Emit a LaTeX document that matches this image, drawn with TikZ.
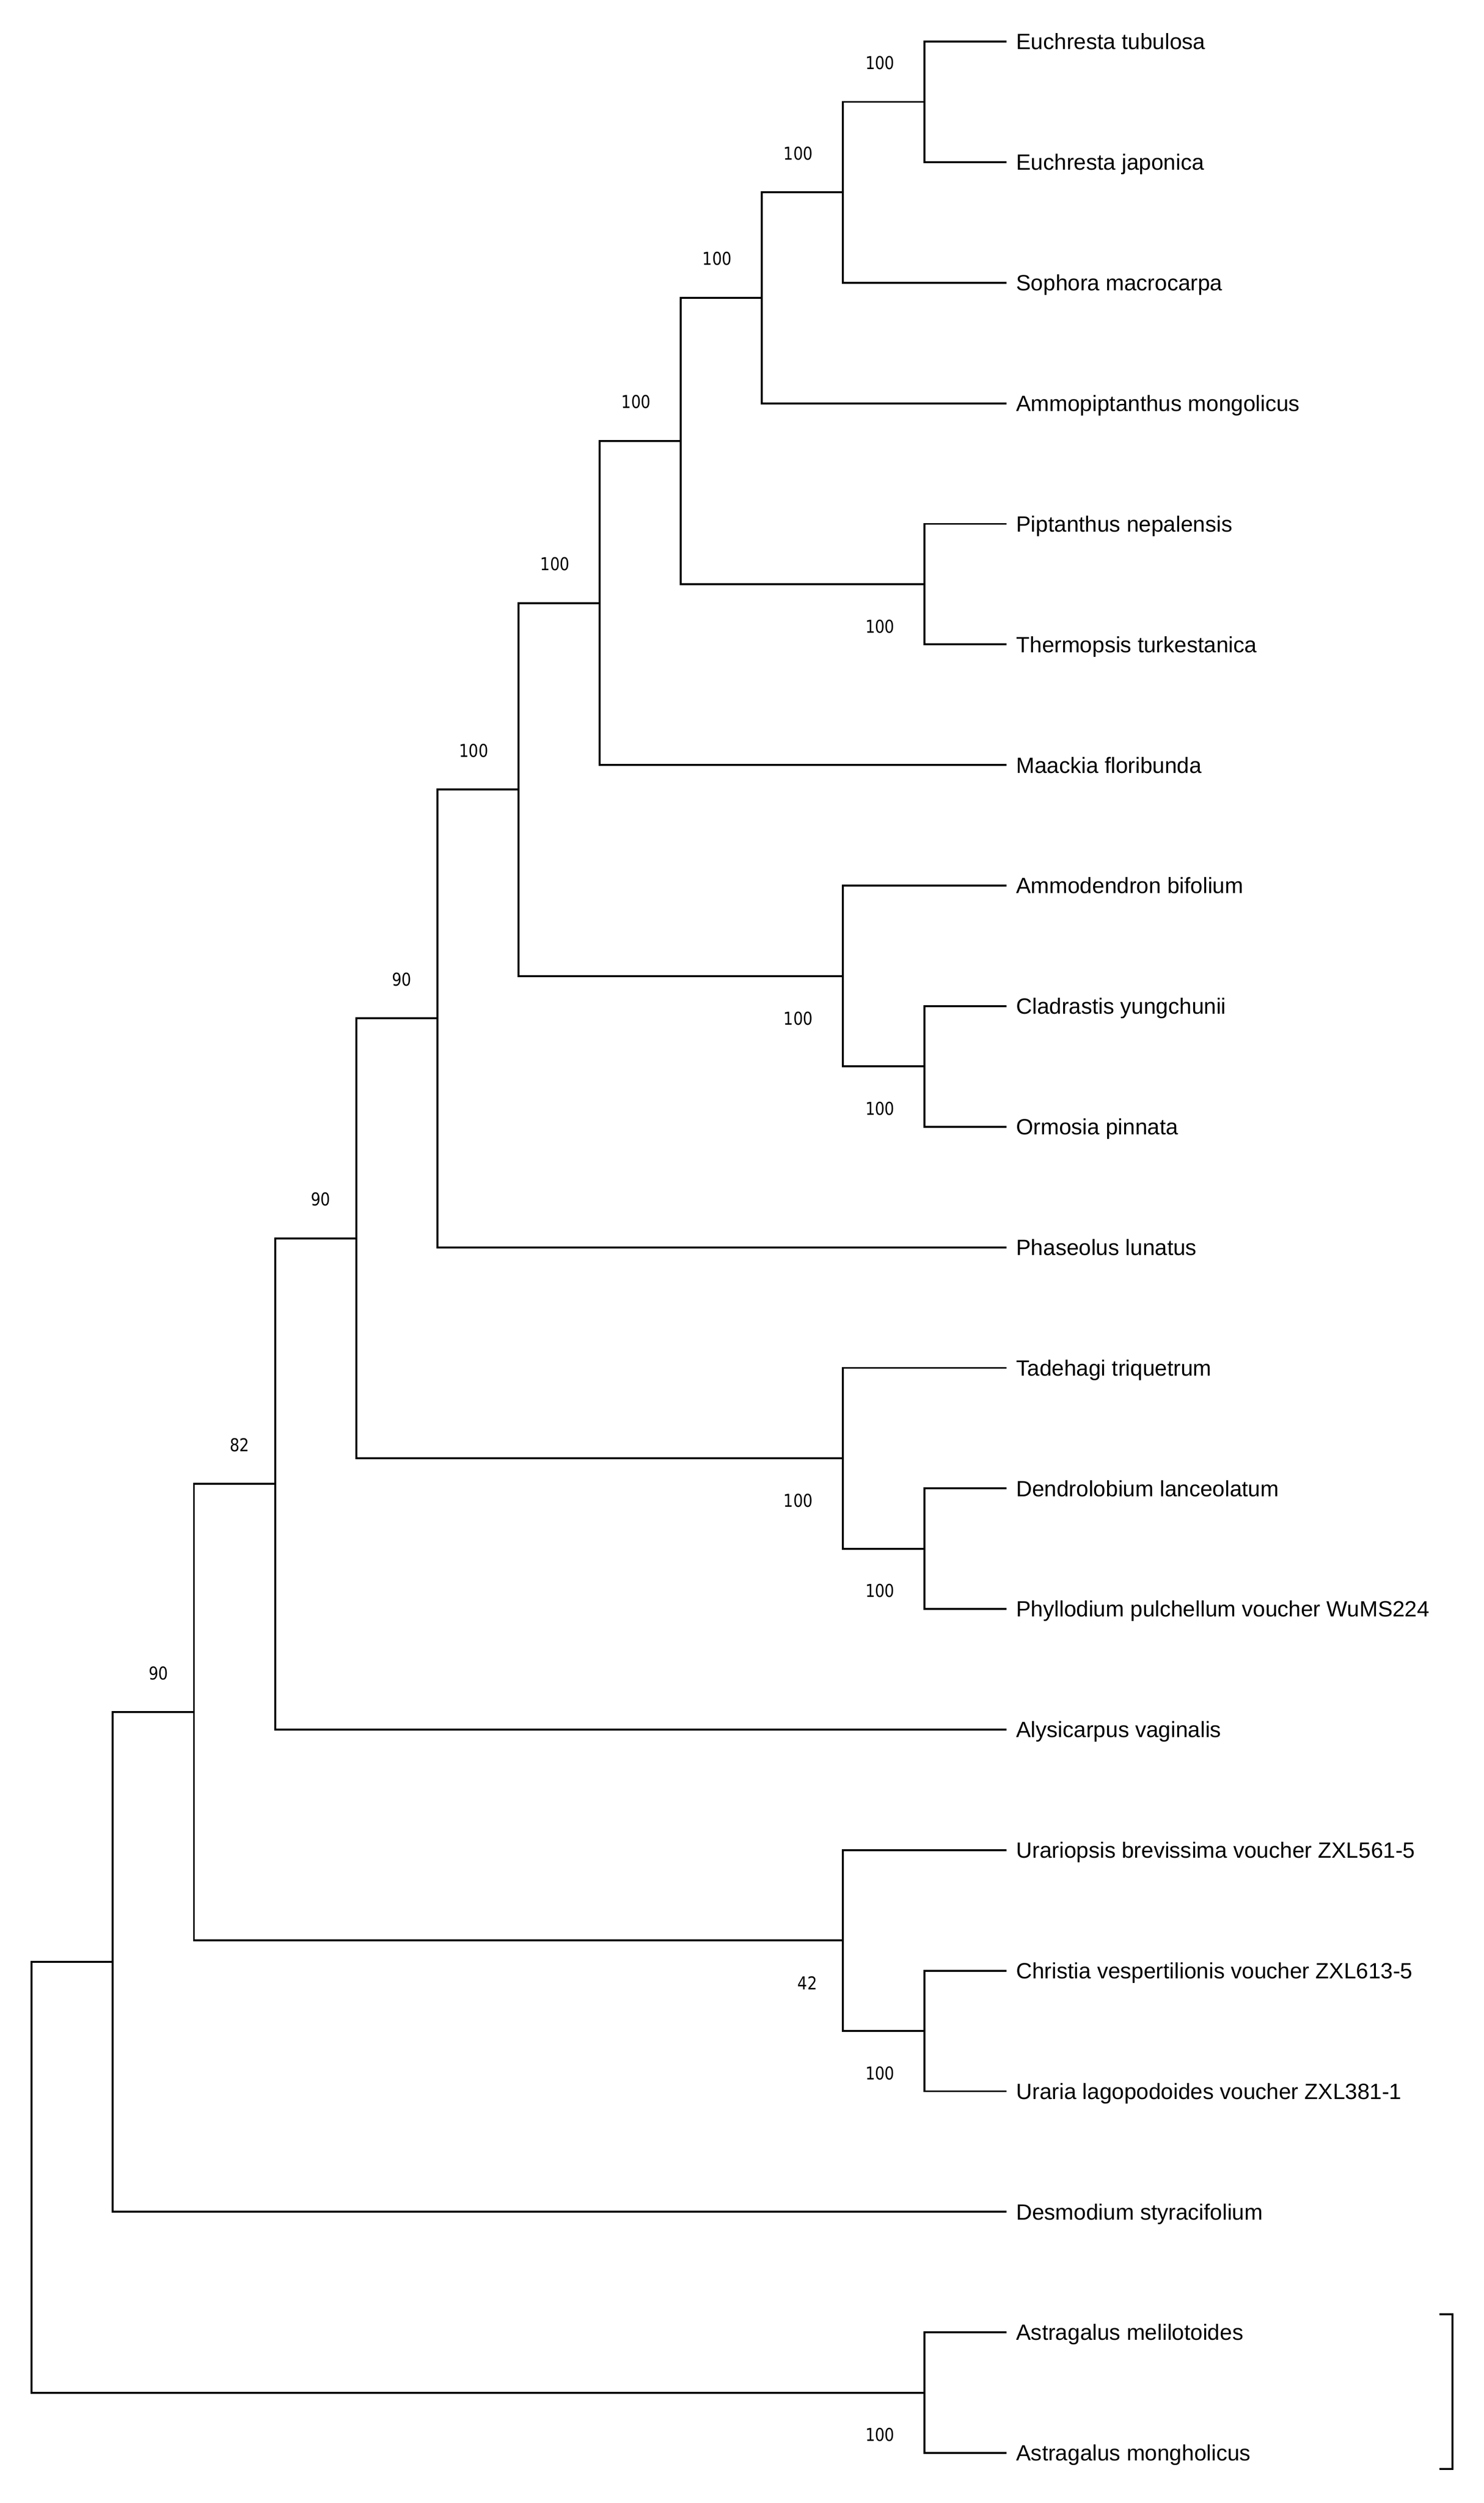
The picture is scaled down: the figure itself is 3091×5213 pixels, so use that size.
\documentclass[tikz,border=0pt]{standalone}
\usepackage{fontspec}
\setmainfont{Liberation Sans}
\newfontfamily\supfont[FakeStretch=0.86]{DejaVu Sans}
\begin{document}
\begin{tikzpicture}[x=0.25pt,y=-0.25pt,
  branch/.style={line width=1pt,line join=miter},
  taxon/.style={anchor=west,inner xsep=5pt,inner ysep=0pt,outer sep=0pt,
    text height=8.23pt,text depth=0pt,font=\fontsize{11.5}{13}\selectfont},
  boot/.style={inner sep=0pt,font=\supfont\fontsize{9.25}{11}\selectfont}]
\useasboundingbox (0,0) rectangle (3091,5213);
\fill[white] (0,0) rectangle (3091,5213);
% leaves
\node[taxon] (t1)  at (2097,86.7)   {Euchresta tubulosa};
\node[taxon] (t2)  at (2097,337.8)  {Euchresta japonica};
\node[taxon] (t3)  at (2097,588.9)  {Sophora macrocarpa};
\node[taxon] (t4)  at (2097,840.0)  {Ammopiptanthus mongolicus};
\node[taxon] (t5)  at (2097,1091.1) {Piptanthus nepalensis};
\node[taxon] (t6)  at (2097,1342.2) {Thermopsis turkestanica};
\node[taxon] (t7)  at (2097,1593.3) {Maackia floribunda};
\node[taxon] (t8)  at (2097,1844.4) {Ammodendron bifolium};
\node[taxon] (t9)  at (2097,2095.5) {Cladrastis yungchunii};
\node[taxon] (t10) at (2097,2346.6) {Ormosia pinnata};
\node[taxon] (t11) at (2097,2597.7) {Phaseolus lunatus};
\node[taxon] (t12) at (2097,2848.8) {Tadehagi triquetrum};
\node[taxon] (t13) at (2097,3099.9) {Dendrolobium lanceolatum};
\node[taxon] (t14) at (2097,3351.0) {Phyllodium pulchellum voucher WuMS224};
\node[taxon] (t15) at (2097,3602.1) {Alysicarpus vaginalis};
\node[taxon] (t16) at (2097,3853.2) {Urariopsis brevissima voucher ZXL561-5};
\node[taxon] (t17) at (2097,4104.3) {Christia vespertilionis voucher ZXL613-5};
\node[taxon] (t18) at (2097,4355.4) {Uraria lagopodoides voucher ZXL381-1};
\node[taxon] (t19) at (2097,4606.5) {Desmodium styracifolium};
\node[taxon] (t20) at (2097,4857.6) {Astragalus melilotoides};
\node[taxon] (t21) at (2097,5108.7) {Astragalus mongholicus};
% internal nodes
\coordinate (A) at (1926,212.25);
\coordinate (B) at (1756,400.6);
\coordinate (C) at (1587,620.3);
\coordinate (D) at (1926,1216.65);
\coordinate (E) at (1418,918.5);
\coordinate (F) at (1249,1255.9);
\coordinate (G) at (1926,2221.05);
\coordinate (H) at (1756,2032.7);
\coordinate (I) at (1080,1644.3);
\coordinate (J) at (911,2121.0);
\coordinate (K) at (1926,3225.45);
\coordinate (L) at (1756,3037.1);
\coordinate (M) at (742,2579.1);
\coordinate (N) at (573,3090.6);
\coordinate (O) at (1926,4229.85);
\coordinate (P) at (1756,4041.5);
\coordinate (Q) at (404,3566.0);
\coordinate (R) at (235,4086.3);
\coordinate (S) at (1926,4983.15);
\coordinate (root) at (66,4534.7);
% branches
\draw[branch] (A) |- (t1.west);  \draw[branch] (A) |- (t2.west);
\draw[branch] (B) |- (A);        \draw[branch] (B) |- (t3.west);
\draw[branch] (C) |- (B);        \draw[branch] (C) |- (t4.west);
\draw[branch] (D) |- (t5.west);  \draw[branch] (D) |- (t6.west);
\draw[branch] (E) |- (C);        \draw[branch] (E) |- (D);
\draw[branch] (F) |- (E);        \draw[branch] (F) |- (t7.west);
\draw[branch] (G) |- (t9.west);  \draw[branch] (G) |- (t10.west);
\draw[branch] (H) |- (t8.west);  \draw[branch] (H) |- (G);
\draw[branch] (I) |- (F);        \draw[branch] (I) |- (H);
\draw[branch] (J) |- (I);        \draw[branch] (J) |- (t11.west);
\draw[branch] (K) |- (t13.west); \draw[branch] (K) |- (t14.west);
\draw[branch] (L) |- (t12.west); \draw[branch] (L) |- (K);
\draw[branch] (M) |- (J);        \draw[branch] (M) |- (L);
\draw[branch] (N) |- (M);        \draw[branch] (N) |- (t15.west);
\draw[branch] (O) |- (t17.west); \draw[branch] (O) |- (t18.west);
\draw[branch] (P) |- (t16.west); \draw[branch] (P) |- (O);
\draw[branch] (Q) |- (N);        \draw[branch] (Q) |- (P);
\draw[branch] (R) |- (Q);        \draw[branch] (R) |- (t19.west);
\draw[branch] (S) |- (t20.west); \draw[branch] (S) |- (t21.west);
\draw[branch] (root) |- (R);     \draw[branch] (root) |- (S);
% bootstrap values
\node[boot] (bA) at (1833,131)  {100};
\node[boot] (bB) at (1663,320)  {100};
\node[boot] (bC) at (1494,539)  {100};
\node[boot] (bD) at (1833,1305) {100};
\node[boot] (bE) at (1325,837)  {100};
\node[boot] (bF) at (1156,1175) {100};
\node[boot] (bG) at (1833,2309) {100};
\node[boot] (bH) at (1663,2121) {100};
\node[boot] (bI) at (987,1563)  {100};
\node[boot] (bJ) at (837,2040)  {90};
\node[boot] (bK) at (1833,3313) {100};
\node[boot] (bL) at (1663,3125) {100};
\node[boot] (bM) at (668,2498)  {90};
\node[boot] (bN) at (499,3010)  {82};
\node[boot] (bO) at (1833,4318) {100};
\node[boot] (bP) at (1682,4130) {42};
\node[boot] (bQ) at (330,3485)  {90};
\node[boot] (bS) at (1833,5071) {100};
% bracket
\coordinate (k1) at (2998,4820);
\coordinate (k2) at (3026,4820);
\coordinate (k3) at (3026,5142);
\coordinate (k4) at (2998,5142);
\draw[branch] (k1) -- (k2) -- (k3) -- (k4);
\end{tikzpicture}
\end{document}
